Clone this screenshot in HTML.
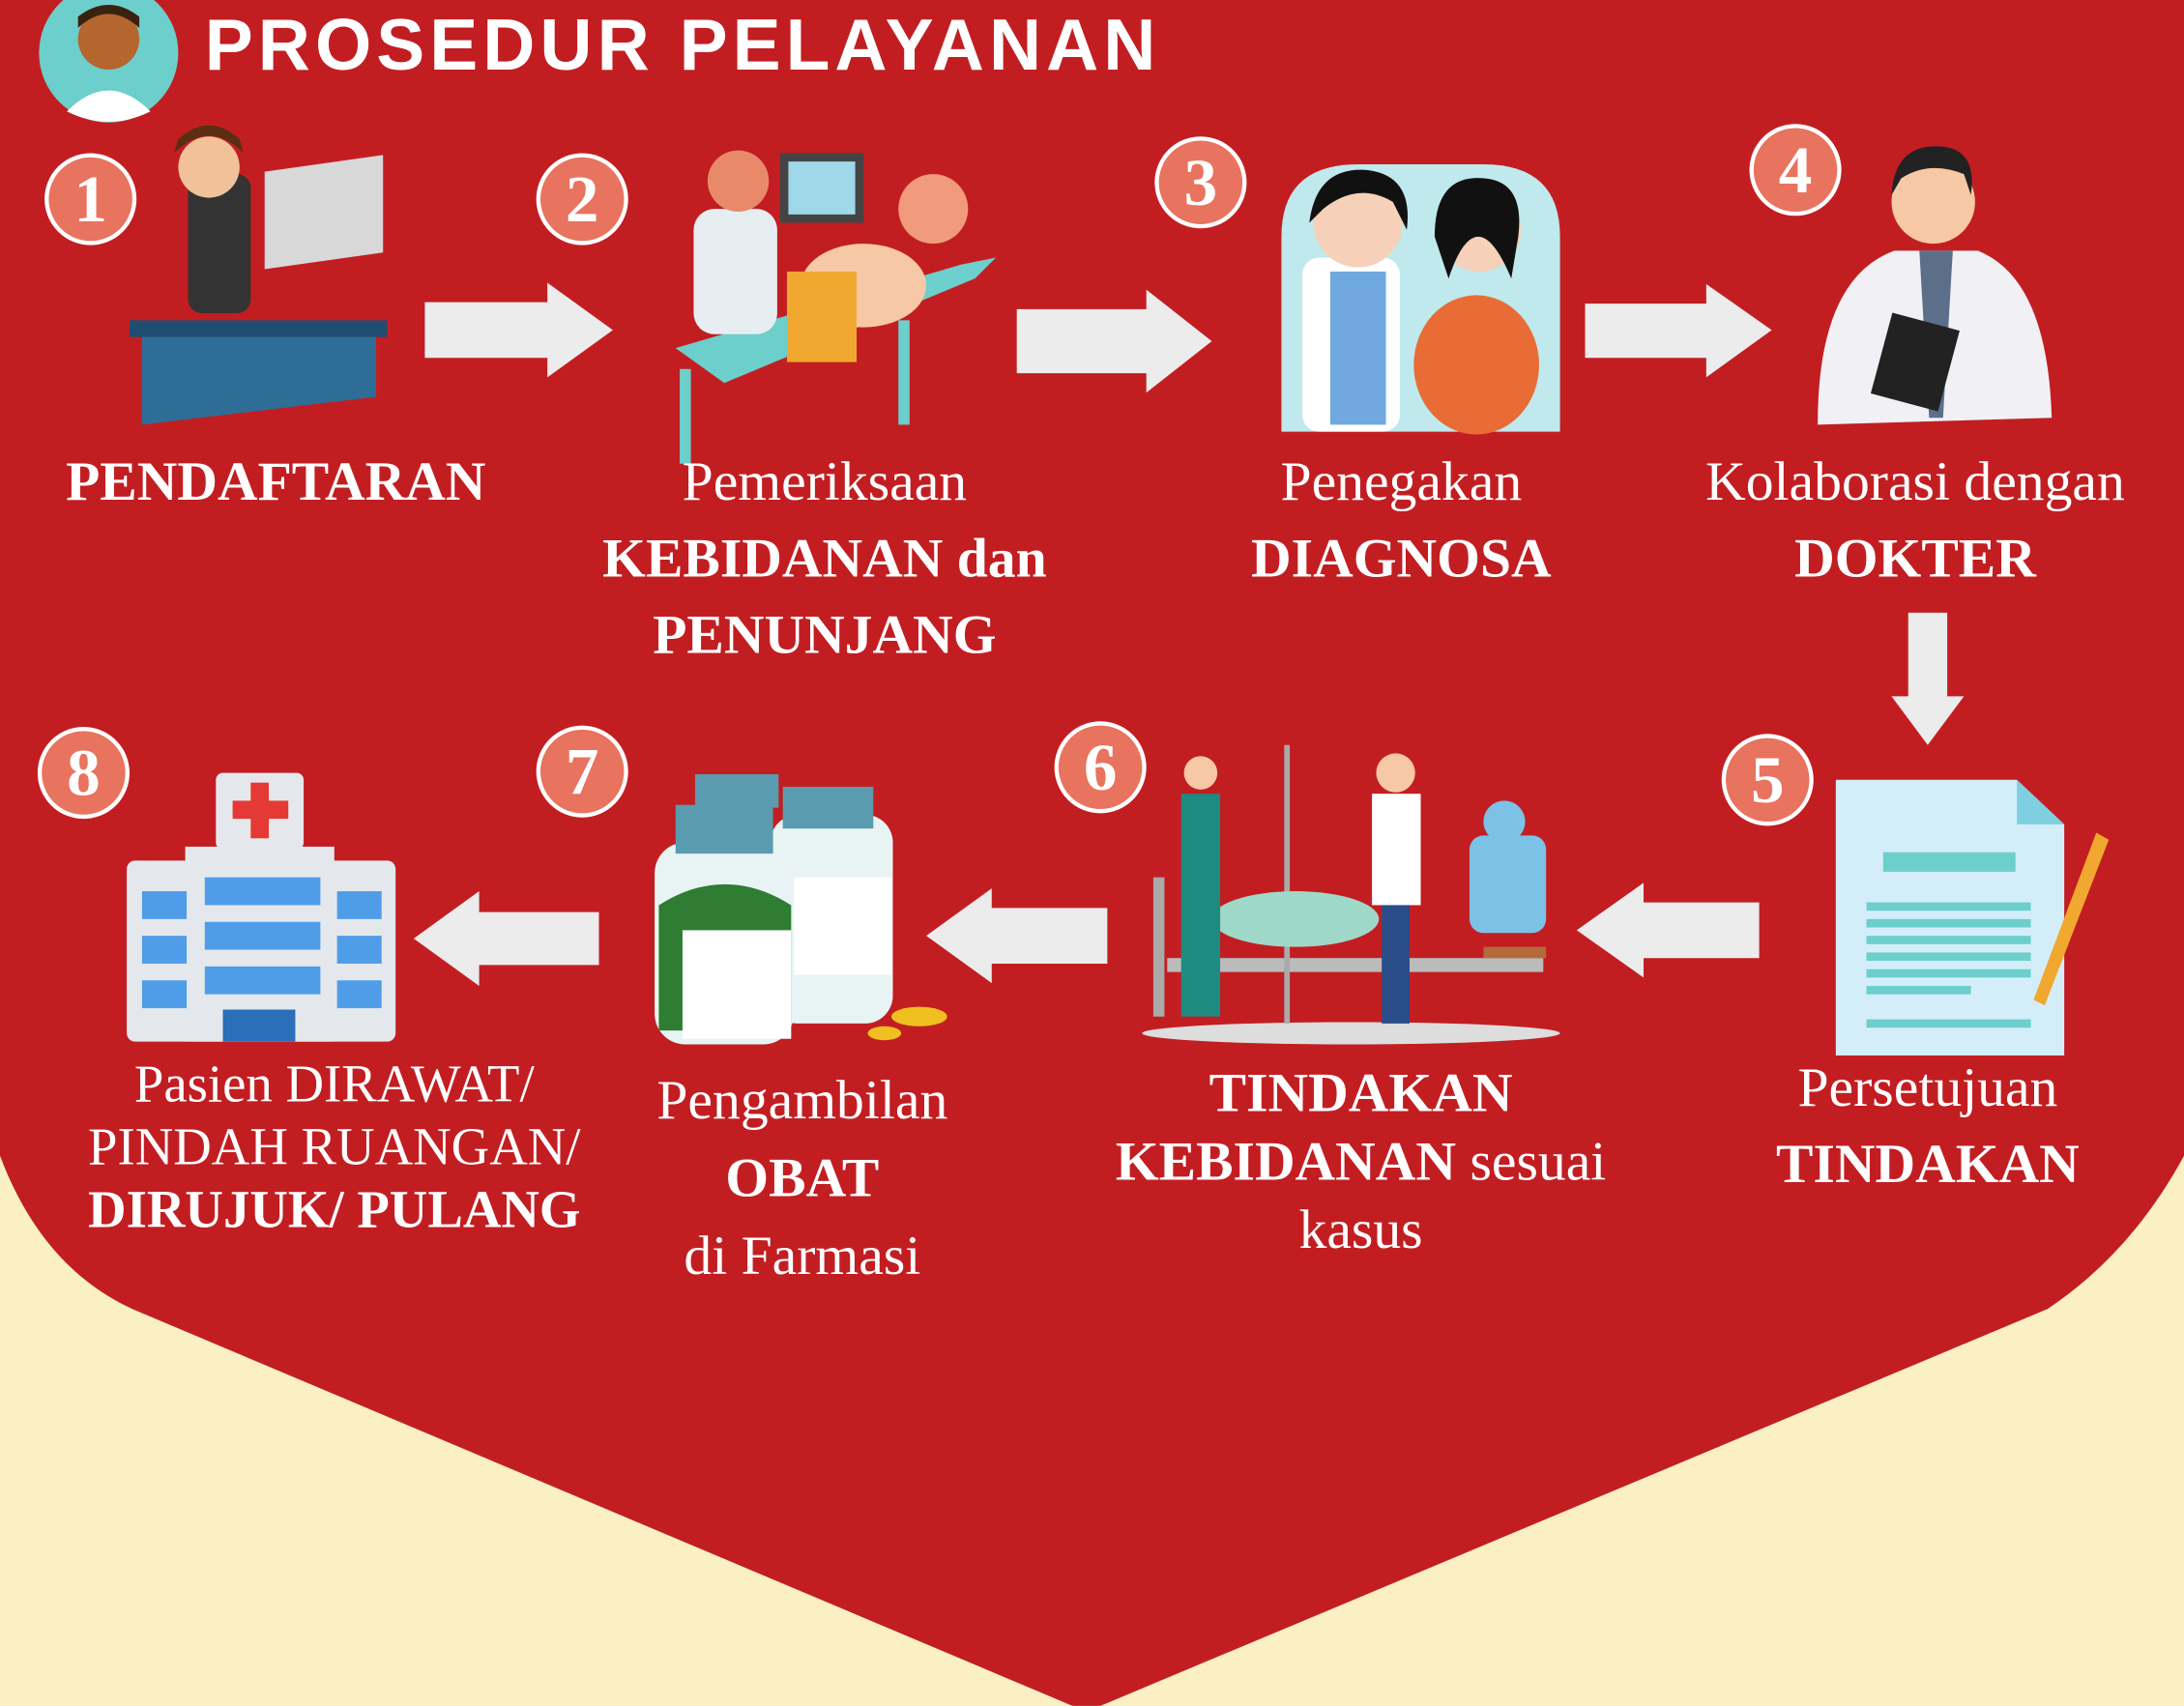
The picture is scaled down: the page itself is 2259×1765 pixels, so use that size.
<!DOCTYPE html>
<html><head><meta charset="utf-8"><style>
html,body{margin:0;padding:0;background:#FAF0C4;}
body{width:2259px;height:1765px;overflow:hidden;position:relative;}
#w{position:absolute;left:0;top:0;width:1568px;height:1225px;transform:scale(1.4407);transform-origin:0 0;}
.t{position:absolute;color:#fff;font-family:"Liberation Serif",serif;font-size:40px;text-align:center;line-height:55px;white-space:nowrap;}
.b{font-weight:bold;}
.n{position:absolute;width:66px;height:66px;border-radius:50%;background:#E8735F;border:3px solid #fff;box-sizing:border-box;color:#fff;font:bold 48px "Liberation Serif",serif;text-align:center;line-height:62px;}
</style></head><body><div id="w">
<svg width="1568" height="1225" style="position:absolute;left:0;top:0">
<path d="M0 0 H1568 V830 Q1530 900 1470 940 L790 1225 Q780 1228 770 1225 L95 940 Q30 910 0 830 Z" fill="#C21E22"/>
<circle cx="78" cy="38" r="50" fill="#6CCFCB"/>
<circle cx="78" cy="28" r="22" fill="#B5652E"/>
<path d="M56 20 Q78 0 100 20 L100 12 Q78 -5 56 12Z" fill="#3a2210"/>
<path d="M48 80 Q78 50 108 80 Q78 95 48 80Z" fill="#fff"/>
<g fill="#ECECEC">
<polygon points="305,217 393,217 393,203 440,237 393,271 393,257 305,257"/>
<polygon points="730,222 823,222 823,208 870,245 823,282 823,268 730,268"/>
<polygon points="1138,218 1225,218 1225,204 1272,237 1225,271 1225,257 1138,257"/>
<polygon points="1370,440 1398,440 1398,500 1410,500 1384,535 1358,500 1370,500"/>
<polygon points="1263,648 1180,648 1180,634 1132,668 1180,702 1180,688 1263,688"/>
<polygon points="795,652 712,652 712,638 665,672 712,706 712,692 795,692"/>
<polygon points="430,655 344,655 344,640 297,674 344,708 344,693 430,693"/>
</g>
<rect x="190" y="150" width="85" height="70" fill="#d8d8d8" transform="skewY(-8)"/>
<rect x="135" y="125" width="45" height="100" rx="10" fill="#333"/>
<circle cx="150" cy="120" r="22" fill="#F1C29A"/>
<path d="M125 110 Q150 85 175 110 L172 100 Q150 80 128 100Z" fill="#5a2e12"/>
<rect x="93" y="230" width="185" height="12" fill="#1F4E72"/>
<polygon points="102,242 270,242 270,285 102,305" fill="#2E6E96"/>
<rect x="560" y="110" width="60" height="50" fill="#444"/><rect x="566" y="116" width="48" height="38" fill="#9fd8e8"/>
<polygon points="485,250 690,190 715,185 700,200 520,275" fill="#6CCFCB"/>
<rect x="488" y="265" width="8" height="68" fill="#6CCFCB"/><rect x="645" y="230" width="8" height="75" fill="#6CCFCB"/>
<ellipse cx="620" cy="205" rx="45" ry="30" fill="#F6C8A5"/>
<circle cx="670" cy="150" r="25" fill="#F29B7C"/>
<rect x="498" y="150" width="60" height="90" rx="15" fill="#e7eef2"/>
<circle cx="530" cy="130" r="22" fill="#E88A6A"/>
<rect x="565" y="195" width="50" height="65" fill="#F0A830"/>
<path d="M920 310 V170 Q920 118 975 118 H1065 Q1120 118 1120 170 V310Z" fill="#BFE9EC"/>
<rect x="935" y="185" width="70" height="125" rx="12" fill="#fff"/>
<rect x="955" y="195" width="40" height="110" fill="#6fa9df"/>
<circle cx="975" cy="160" r="32" fill="#F6D0B8"/><path d="M940 160 Q945 120 980 122 Q1015 125 1010 165 L1000 145 Q975 130 950 150Z" fill="#111"/>
<ellipse cx="1060" cy="262" rx="45" ry="50" fill="#E96C36"/>
<circle cx="1062" cy="165" r="30" fill="#F6D0B8"/><path d="M1030 170 Q1030 125 1065 128 Q1095 130 1090 170 L1085 200 Q1060 140 1040 200Z" fill="#111"/>
<path d="M1305 305 Q1305 200 1360 180 L1420 180 Q1470 200 1473 300Z" fill="#F1F1F5"/>
<polygon points="1378,180 1402,180 1395,300 1385,300" fill="#5b6f8a"/>
<rect x="1350" y="230" width="50" height="60" fill="#222" transform="rotate(15 1375 260)"/>
<circle cx="1388" cy="145" r="30" fill="#F6C8A5"/><path d="M1358 140 Q1360 105 1390 105 Q1420 105 1415 140 L1410 125 Q1385 115 1365 128Z" fill="#222"/>
<polygon points="1318,560 1448,560 1482,592 1482,758 1318,758" fill="#D3EEF8"/>
<polygon points="1448,560 1482,592 1448,592" fill="#7fcfe0"/>
<rect x="1352" y="612" width="95" height="14" fill="#6CCFCB"/>
<g fill="#6CCFCB"><rect x="1340" y="648" width="118" height="6"/><rect x="1340" y="660" width="118" height="6"/><rect x="1340" y="672" width="118" height="6"/><rect x="1340" y="684" width="118" height="6"/><rect x="1340" y="696" width="118" height="6"/><rect x="1340" y="708" width="75" height="6"/><rect x="1340" y="732" width="118" height="6"/></g>
<polygon points="1505,598 1514,603 1468,722 1460,718" fill="#F0A830"/>
<ellipse cx="970" cy="742" rx="150" ry="8" fill="#ddd"/>
<rect x="838" y="688" width="270" height="10" fill="#bbb"/>
<rect x="828" y="630" width="8" height="100" fill="#aaa"/><rect x="922" y="535" width="4" height="200" fill="#aaa"/>
<ellipse cx="930" cy="660" rx="60" ry="20" fill="#9FD8C8"/>
<rect x="848" y="570" width="28" height="160" fill="#1F8A80"/><circle cx="862" cy="555" r="12" fill="#F6C8A5"/>
<rect x="985" y="570" width="35" height="80" fill="#fff"/><rect x="992" y="650" width="20" height="85" fill="#2b4d8a"/><circle cx="1002" cy="555" r="14" fill="#F6C8A5"/>
<rect x="1055" y="600" width="55" height="70" rx="10" fill="#7cc1e6"/><circle cx="1080" cy="590" r="15" fill="#7cc1e6"/>
<rect x="1065" y="680" width="45" height="8" fill="#b36b3a"/>
<rect x="553" y="585" width="88" height="150" rx="20" fill="#E8F4F3"/>
<rect x="562" y="565" width="65" height="30" fill="#5A9BAF"/>
<rect x="556" y="630" width="84" height="70" fill="#fff"/>
<rect x="470" y="605" width="100" height="145" rx="22" fill="#E8F4F3"/>
<rect x="485" y="578" width="70" height="35" fill="#5A9BAF"/><rect x="499" y="556" width="60" height="24" fill="#5A9BAF"/>
<path d="M473 650 Q520 620 568 650 V740 H473Z" fill="#2E7D32"/>
<rect x="490" y="668" width="78" height="78" fill="#fff"/>
<ellipse cx="660" cy="730" rx="20" ry="7" fill="#F0C020"/><ellipse cx="635" cy="742" rx="12" ry="5" fill="#F0C020"/>
<rect x="155" y="555" width="63" height="55" rx="5" fill="#E4E8EC"/>
<rect x="180" y="562" width="13" height="40" fill="#E53935"/><rect x="167" y="575" width="40" height="13" fill="#E53935"/>
<rect x="133" y="608" width="107" height="140" fill="#E4E8EC"/>
<rect x="91" y="618" width="193" height="130" rx="6" fill="#E4E8EC"/>
<g fill="#4F9DE8"><rect x="147" y="630" width="83" height="20"/><rect x="147" y="662" width="83" height="20"/><rect x="147" y="694" width="83" height="20"/>
<rect x="102" y="640" width="32" height="20"/><rect x="102" y="672" width="32" height="20"/><rect x="102" y="704" width="32" height="20"/>
<rect x="242" y="640" width="32" height="20"/><rect x="242" y="672" width="32" height="20"/><rect x="242" y="704" width="32" height="20"/></g>
<rect x="160" y="725" width="52" height="23" fill="#2A6FB8"/>
</svg>
<div style="position:absolute;left:147px;top:3px;color:#fff;font:bold 52px 'Liberation Sans',sans-serif;letter-spacing:3.5px;">PROSEDUR PELAYANAN</div>
<div class="n" style="left:32px;top:110px">1</div>
<div class="n" style="left:385px;top:110px">2</div>
<div class="n" style="left:829px;top:98px">3</div>
<div class="n" style="left:1256px;top:89px">4</div>
<div class="n" style="left:1236px;top:527px">5</div>
<div class="n" style="left:757px;top:518px">6</div>
<div class="n" style="left:385px;top:521px">7</div>
<div class="n" style="left:27px;top:522px">8</div>
<div class="t b" style="left:0;width:396px;top:318px">PENDAFTARAN</div>
<div class="t" style="left:392px;width:400px;top:318px">Pemeriksaan<br><span class="b">KEBIDANAN dan<br>PENUNJANG</span></div>
<div class="t" style="left:806px;width:400px;top:318px">Penegakan<br><span class="b">DIAGNOSA</span></div>
<div class="t" style="left:1175px;width:400px;top:318px">Kolaborasi dengan<br><span class="b">DOKTER</span></div>
<div class="t" style="left:1184px;width:400px;top:753px">Persetujuan<br><span class="b">TINDAKAN</span></div>
<div class="t" style="left:777px;width:400px;top:760px;line-height:49px"><span class="b">TINDAKAN<br>KEBIDANAN</span> sesuai<br>kasus</div>
<div class="t" style="left:376px;width:400px;top:762px;line-height:56px">Pengambilan<br><span class="b">OBAT</span><br>di Farmasi</div>
<div class="t" style="left:40px;width:400px;top:757px;line-height:45px;font-size:38px">Pasien DIRAWAT/<br>PINDAH RUANGAN/<br><span class="b">DIRUJUK/ PULANG</span></div>
</div></body></html>
